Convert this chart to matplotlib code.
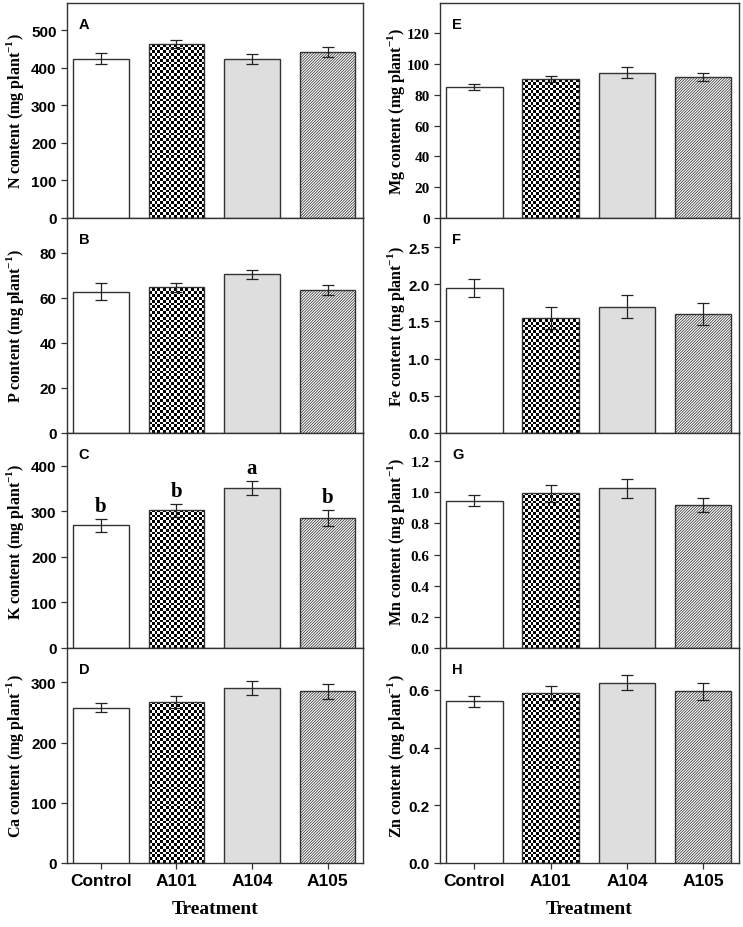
import matplotlib.pyplot as plt
import numpy as np

plt.rcParams['mathtext.fontset'] = 'custom'
plt.rcParams['mathtext.rm'] = 'Liberation Serif:bold'
plt.rcParams['mathtext.bf'] = 'Liberation Serif:bold'
plt.rcParams['hatch.linewidth'] = 0.55

treatments = ['Control', 'A101', 'A104', 'A105']

n_mean = [424, 463, 423, 441]
n_err = [14, 10, 13, 13]
p_mean = [62.8, 64.7, 70.5, 63.7]
p_err = [3.7, 2.0, 2.0, 2.2]
k_mean = [269, 302, 351, 286]
k_err = [15, 15, 16, 18]
k_letters = ['b', 'b', 'a', 'b']
ca_mean = [258, 267, 291, 285]
ca_err = [7.5, 10, 12, 12]

mg_mean = [85.2, 90.0, 94.3, 91.5]
mg_err = [2.0, 2.0, 3.5, 2.5]
fe_mean = [1.945, 1.546, 1.70, 1.60]
fe_err = [0.12, 0.15, 0.16, 0.15]
mn_mean = [0.944, 0.993, 1.026, 0.92]
mn_err = [0.035, 0.055, 0.06, 0.045]
zn_mean = [0.56, 0.59, 0.625, 0.595]
zn_err = [0.02, 0.025, 0.025, 0.03]

# (letter, element, mean, err, ylim top, yticks, serif tick labels)
left_panels = [
    ('A', 'N', n_mean, n_err, 572, [0, 100, 200, 300, 400, 500], False),
    ('B', 'P', p_mean, p_err, 95.5, [0, 20, 40, 60, 80], False),
    ('C', 'K', k_mean, k_err, 472, [0, 100, 200, 300, 400], False),
    ('D', 'Ca', ca_mean, ca_err, 357, [0, 100, 200, 300], False),
]
right_panels = [
    ('E', 'Mg', mg_mean, mg_err, 139.5, [0, 20, 40, 60, 80, 100, 120], True),
    ('F', 'Fe', fe_mean, fe_err, 2.89, [0.0, 0.5, 1.0, 1.5, 2.0, 2.5], False),
    ('G', 'Mn', mn_mean, mn_err, 1.38, [0.0, 0.2, 0.4, 0.6, 0.8, 1.0, 1.2], True),
    ('H', 'Zn', zn_mean, zn_err, 0.745, [0.0, 0.2, 0.4, 0.6], False),
]

W, H = 743, 928
fig = plt.figure(figsize=(W / 100, H / 100), dpi=100)

spine_col = '#333333'
sans = 'Liberation Sans'
serif = 'Liberation Serif'
x = np.arange(len(treatments))


def draw_panel(ax, panel, bottom, label_x):
    letter, elem, mean, err, ytop, yticks, serif_ticks = panel
    bars = ax.bar(x, mean, width=0.74, color=['white', 'none', '#dedede', 'white'],
                  edgecolor=spine_col, linewidth=1.0, zorder=3)
    bars[3].set_hatch('/' * 12)
    # checkerboard fill for A101
    b = bars[1]
    cells = np.indices((76, 20)).sum(axis=0) % 2
    im = ax.imshow(cells, cmap='gray', extent=(b.get_x(), b.get_x() + b.get_width(), 0, ytop),
                   aspect='auto', interpolation='nearest', zorder=2.5)
    im.set_clip_path(b)
    ax.errorbar(x, mean, yerr=err, fmt='none', ecolor='#222222', elinewidth=0.9,
                capsize=4, capthick=0.9, zorder=4)
    ax.set_xlim(-0.45, 3.47)
    ax.set_ylim(0, ytop)
    ax.set_yticks(yticks)
    ax.set_xticks(x)
    ax.tick_params(direction='out', length=4, width=0.9, color=spine_col)
    for s in ax.spines.values():
        s.set_color(spine_col)
        s.set_linewidth(1.0)
    fam = serif if serif_ticks else sans
    ax.set_yticklabels([f'{t:g}' if isinstance(t, int) else f'{t:.1f}' for t in yticks],
                       fontfamily=fam, fontweight='bold', fontsize=11)
    if bottom:
        ax.set_xticklabels(treatments, fontfamily=sans, fontweight='bold', fontsize=12.5)
        ax.set_xlabel('Treatment', fontfamily=serif, fontweight='bold', fontsize=14, labelpad=8)
    else:
        ax.set_xticklabels([])
    ax.set_ylabel(elem + ' content (mg plant$^{-1}$)', fontfamily=serif,
                  fontweight='bold', fontsize=11.5)
    ax.yaxis.set_label_coords(label_x, 0.5)
    ax.text(0.04, 0.935, letter, transform=ax.transAxes, ha='left', va='top',
            fontfamily=sans, fontweight='bold', fontsize=10.5)


panel_h = 215 / H
tops = [4, 219, 434, 649]
for col, (panels, x0, x1, label_x) in enumerate([(left_panels, 67, 363, -0.139),
                                                  (right_panels, 440, 739, -0.110)]):
    for i, panel in enumerate(panels):
        y0 = 1 - (tops[i] + 215) / H
        ax = fig.add_axes([x0 / W, y0, (x1 - x0) / W, panel_h])
        draw_panel(ax, panel, i == 3, label_x)
        if panel[1] == 'K':
            for xi, m, e, lt in zip(x, k_mean, k_err, k_letters):
                ax.annotate(lt, (xi, m + e), xytext=(0, 2), textcoords='offset points',
                            ha='center', va='bottom', fontfamily=serif,
                            fontweight='bold', fontsize=15)

fig.savefig('out.png', dpi=100)
